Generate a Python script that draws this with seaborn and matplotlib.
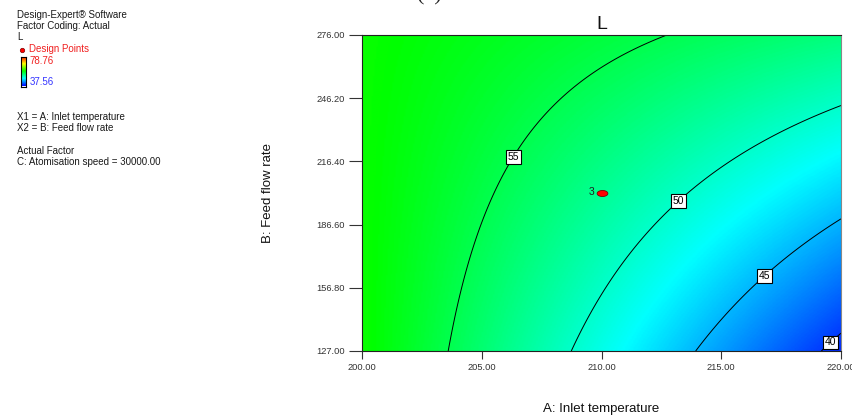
import numpy as np
import matplotlib
matplotlib.use("Agg")
import matplotlib.pyplot as plt
from matplotlib.colors import LinearSegmentedColormap
from matplotlib.path import Path
from matplotlib.lines import Line2D
import seaborn as sns

sns.set_style("white")
plt.rcParams['font.family'] = ['Liberation Sans', 'DejaVu Sans']

# ---- data ----
x_ticks = [200.00, 205.00, 210.00, 215.00, 220.00]
y_ticks = [127.00, 156.80, 186.60, 216.40, 246.20, 276.00]
contour_levels = [40, 45, 50, 55]
L_min, L_max = 37.56, 78.76
design_A = [210.0]
design_B = [201.5]
design_label = ["3"]

# quadratic response-surface model of L in coded factors
# (intercept, A, B, AB, A^2, B^2), estimated from the contour lines
model_terms = ["1", "A", "B", "AB", "A2", "B2"]
model_coef = [52.211, -6.172, 3.473, 3.482, 0.097, 0.043]
A_center, A_half = 210.0, 10.0
B_center, B_half = 201.5, 74.5

A_grid = np.linspace(200, 220, 300)
B_grid = np.linspace(127, 276, 300)
AA, BB = np.meshgrid(A_grid, B_grid)
ca = (AA - A_center) / A_half
cb = (BB - B_center) / B_half
c = model_coef
Z = c[0] + c[1] * ca + c[2] * cb + c[3] * ca * cb + c[4] * ca ** 2 + c[5] * cb ** 2

W, H = 852, 418
fig = plt.figure(figsize=(W / 100, H / 100), dpi=100)
ax = fig.add_axes([362 / W, 1 - 351 / H, 479 / W, 316 / H])

cmap = LinearSegmentedColormap.from_list(
    "de", ["#0000FF", "#00FFFF", "#00FF00", "#FFFF00", "#FF0000"])
ax.imshow(Z, origin="lower", extent=[200, 220, 127, 276], aspect="auto",
          cmap=cmap, vmin=L_min, vmax=L_max, interpolation="bilinear")
cs = ax.contour(AA, BB, Z, levels=contour_levels, colors="black",
                linewidths=0.7)
labels = ax.clabel(cs, fmt="%d", fontsize=7.5, inline=True, inline_spacing=2,
                   rightside_up=True,
                   manual=[(206.26, 218.95), (213.15, 198.67),
                           (216.66, 164.25), (219.29, 134.4)])
for t in labels:
    t.set_rotation(0)
    t.set_bbox(dict(facecolor="white", edgecolor="black", pad=1.3,
                    linewidth=0.8))

t = np.linspace(0, 2 * np.pi, 41)
ell = Path(np.column_stack([np.cos(t), 0.56 * np.sin(t)]), closed=True)
sns.scatterplot(x=design_A, y=design_B, marker=ell, s=60, color="red",
                edgecolor="#7a0000", linewidth=0.6, ax=ax, legend=False,
                zorder=5)
for xa, yb, lab in zip(design_A, design_B, design_label):
    ax.annotate(lab, (xa, yb), xytext=(-7.2, 0.5), textcoords="offset points",
                ha="center", va="center", fontsize=7.5, color="#202020")

ax.set_xlim(200, 220)
ax.set_ylim(127, 276)
ax.set_xticks(x_ticks)
ax.set_yticks(y_ticks)
ax.set_xticklabels([f"{v:.2f}" for v in x_ticks])
ax.set_yticklabels([f"{v:.2f}" for v in y_ticks])
ax.tick_params(axis="y", direction="out", length=9.4, width=0.8, pad=3,
               labelsize=6.7, colors="#333333", left=True)
ax.tick_params(axis="x", direction="out", length=5.8, width=0.8, pad=2.5,
               labelsize=6.7, colors="#333333", bottom=True)
for s in ax.spines.values():
    s.set_color("#222222")
    s.set_linewidth(0.8)
ax.spines["right"].set_color("#888888")

ax.set_xlabel("A: Inlet temperature", fontsize=9.5, color="#111111")
ax.set_ylabel("B: Feed flow rate", fontsize=9.5, color="#111111")
ax.xaxis.set_label_coords(0.5, -0.165)
ax.yaxis.set_label_coords(-0.183, 0.5)
ax.set_title("L", fontsize=14, pad=4, color="#111111")

# left info block
def ftxt(px, py, s, **kw):
    fig.text(px / W, 1 - py / H, s, va="center", ha="left", fontsize=7,
             color=kw.pop("color", "#1a1a1a"), **kw)

ftxt(17.3, 15.3, "Design-Expert® Software")
ftxt(17.3, 26.3, "Factor Coding: Actual")
ftxt(17.3, 36.7, "L")
ftxt(29.3, 49.3, "Design Points", color="#f02020")
ftxt(29.3, 61.0, "78.76", color="#f02020")
ftxt(29.3, 82.3, "37.56", color="#3535ff")
ftxt(17.3, 116.7, "X1 = A: Inlet temperature")
ftxt(17.3, 127.7, "X2 = B: Feed flow rate")
ftxt(17.3, 150.7, "Actual Factor")
ftxt(17.3, 162.3, "C: Atomisation speed = 30000.00")
fig.add_artist(Line2D([22.3 / W], [1 - 50 / H], marker="o", ms=3.2,
                      color="red", mec="#7a0000", mew=0.5,
                      transform=fig.transFigure))
cax = fig.add_axes([20.5 / W, 1 - 86.5 / H, 5.5 / W, 29.8 / H])
cax.imshow(np.linspace(0, 1, 100)[:, None], origin="lower", aspect="auto",
           cmap=cmap)
cax.set_xticks([]); cax.set_yticks([])
for s in cax.spines.values():
    s.set_color("black"); s.set_linewidth(0.8)

# caption cut off at the top edge, as in the reference
fig.text(429 / W, 1.0, "(a)", fontsize=16, ha="center", va="baseline",
         family=["Liberation Serif"])

fig.savefig("out.png", dpi=100)
